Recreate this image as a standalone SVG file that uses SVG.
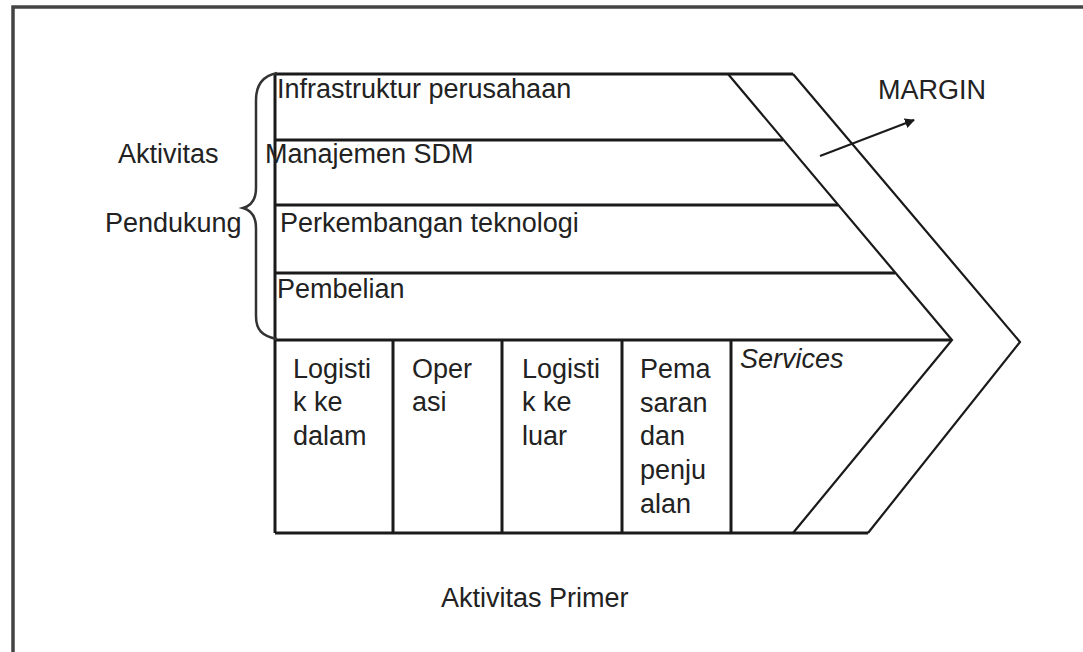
<svg xmlns="http://www.w3.org/2000/svg" width="1083" height="652" viewBox="0 0 1083 652">
<style>
text{font-family:"Liberation Sans",Arial,sans-serif;font-size:27px;fill:#222}
.ln{stroke:#1a1a1a;stroke-width:3;fill:none}
.dg{stroke:#1a1a1a;stroke-width:2.2;fill:none}
</style>
<defs>
<marker id="ah" markerWidth="10" markerHeight="10" refX="9" refY="5" orient="auto" markerUnits="userSpaceOnUse">
<path d="M0,0 L10,5 L0,10 Z" fill="#1a1a1a"/>
</marker>
</defs>
<rect width="1083" height="652" fill="#fff"/>
<g id="frame">
<path d="M13,660 V7 H1090" stroke="#444" stroke-width="3.5" fill="none"/>
</g>
<g id="support">
<path class="ln" d="M275,74 H793"/>
<path class="ln" d="M275,140 H783"/>
<path class="ln" d="M275,205 H838"/>
<path class="ln" d="M275,273 H895"/>
<path class="ln" d="M275,340 H952"/>
<path class="ln" d="M275,74 V533"/>
<text x="277" y="98">Infrastruktur perusahaan</text>
<text x="265" y="163">Manajemen SDM</text>
<text x="280" y="232">Perkembangan teknologi</text>
<text x="277" y="298">Pembelian</text>
</g>
<g id="primary">
<path class="ln" d="M275,533 H868"/>
<path class="ln" d="M393,340 V533 M502,340 V533 M622,340 V533 M731,340 V533"/>
<text x="293" y="378">Logisti</text>
<text x="293" y="411">k ke</text>
<text x="293" y="445">dalam</text>
<text x="412" y="378">Oper</text>
<text x="412" y="411">asi</text>
<text x="522" y="378">Logisti</text>
<text x="522" y="411">k ke</text>
<text x="522" y="445">luar</text>
<text x="640" y="378">Pema</text>
<text x="640" y="412">saran</text>
<text x="640" y="445">dan</text>
<text x="640" y="479">penju</text>
<text x="640" y="513">alan</text>
<text x="740" y="368" font-style="italic">Services</text>
</g>
<g id="margin">
<path class="dg" d="M728,74 L952,340 L793,533"/>
<path class="dg" d="M793,74 L1020,342 L868,533"/>
<text x="878" y="99">MARGIN</text>
</g>
<g id="brace">
<path stroke="#333" stroke-width="2.5" fill="none" d="M277,73 C262,76 256,86 256,100 V188 C256,200 250,206 243,208 C250,210 256,216 256,228 V316 C256,330 262,336 277,339"/>
<text x="118" y="163">Aktivitas</text>
<text x="105" y="232">Pendukung</text>
</g>
<g id="connectors">
<path stroke="#1a1a1a" stroke-width="2" fill="none" d="M820,156 L914,120" marker-end="url(#ah)"/>
</g>
<g id="footer">
<text x="441" y="607">Aktivitas Primer</text>
</g>
</svg>
